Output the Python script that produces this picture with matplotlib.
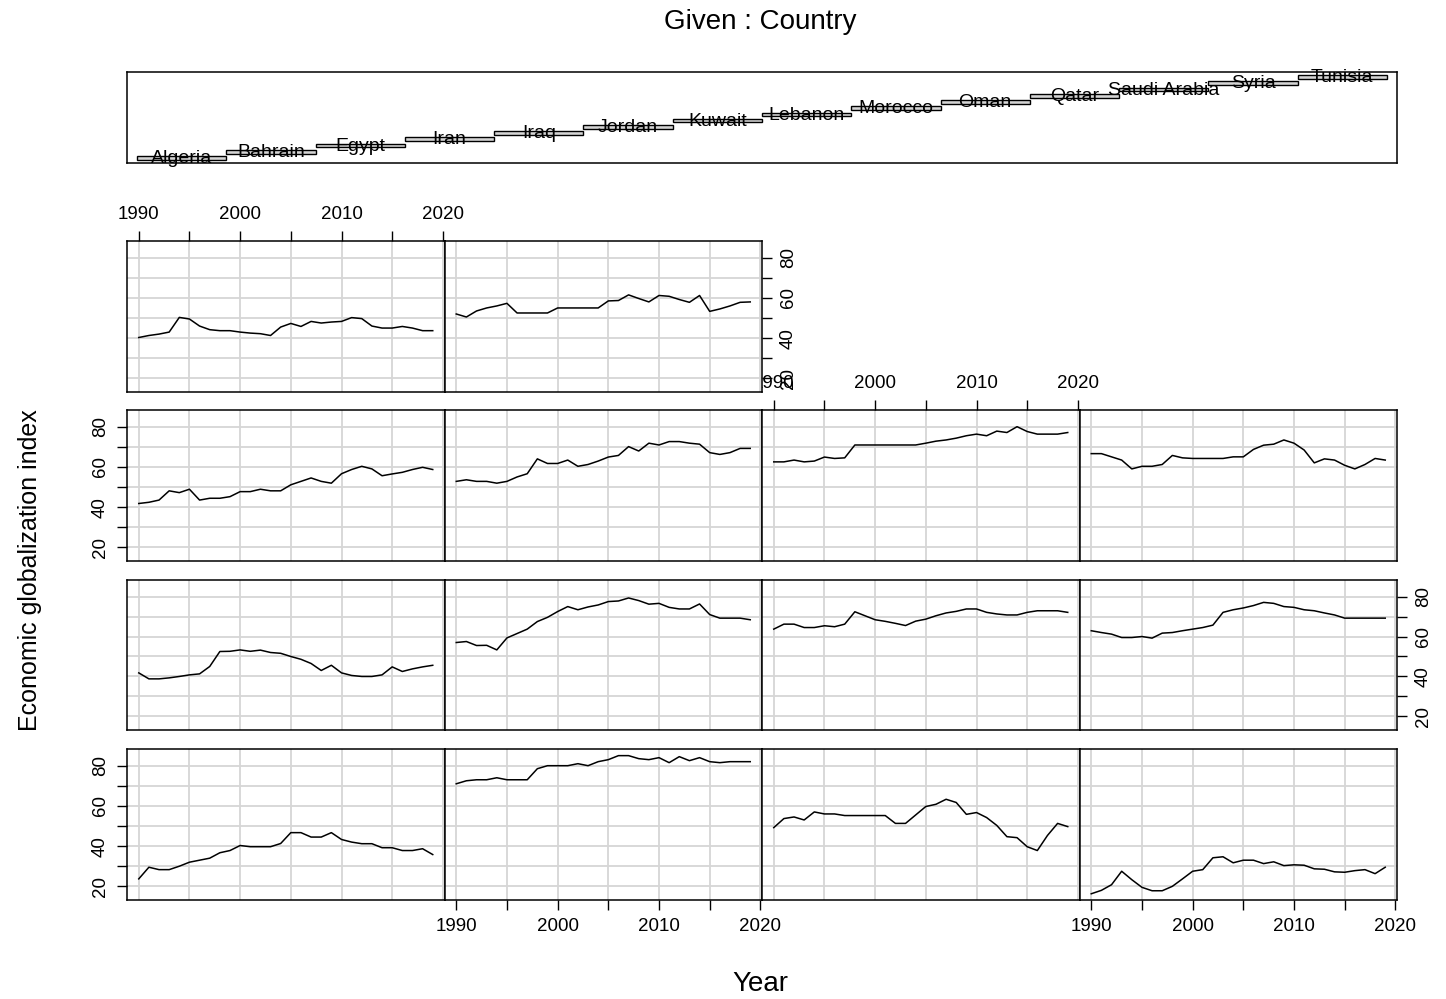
import matplotlib
matplotlib.use("Agg")
import matplotlib.pyplot as plt

plt.rcParams['font.family'] = ['Liberation Sans', 'DejaVu Sans']

years = list(range(1990, 2020))
countries = ["Algeria", "Bahrain", "Egypt", "Iran", "Iraq", "Jordan", "Kuwait",
             "Lebanon", "Morocco", "Oman", "Qatar", "Saudi Arabia", "Syria", "Tunisia"]

algeria = [23.7, 29.5, 28.3, 28.3, 30.0, 32.0, 33.0, 34.0, 36.7, 37.8, 40.3, 39.7, 39.7, 39.7, 41.3,
           46.7, 46.7, 44.5, 44.5, 46.7, 43.3, 42.0, 41.2, 41.2, 39.2, 39.2, 37.8, 37.8, 38.7, 35.8]
bahrain = [71, 72.5, 73, 73, 74, 73, 73, 73, 78.5, 80, 80, 80, 81, 80, 82,
           83, 85, 85, 83.5, 83, 84, 81.5, 84.5, 82.5, 84, 82, 81.5, 82, 82, 82]
egypt = [49.2, 53.7, 54.5, 53.0, 57.0, 56.0, 56.0, 55.2, 55.2, 55.2, 55.2, 55.2, 51.3, 51.3, 55.5,
         59.7, 60.8, 63.3, 61.7, 55.8, 56.7, 54.2, 50.3, 44.7, 44.2, 39.7, 37.8, 45.3, 51.3, 49.7]
iran = [16.3, 18.0, 20.8, 27.5, 23.3, 19.5, 17.8, 17.8, 20.0, 23.7, 27.5, 28.3, 34.2, 34.7, 31.7,
        33.0, 33.0, 31.3, 32.2, 30.3, 30.7, 30.5, 28.7, 28.5, 27.2, 27.0, 27.8, 28.3, 26.3, 29.5]
iraq = [41.8, 38.8, 38.8, 39.3, 40.0, 40.8, 41.3, 45.0, 52.5, 52.6, 53.3, 52.6, 53.2, 52.0, 51.6,
        50.0, 48.6, 46.5, 43.0, 45.6, 41.8, 40.5, 40.0, 40.0, 40.8, 44.8, 42.5, 43.8, 44.8, 45.6]
jordan = [57.0, 57.5, 55.5, 55.6, 53.3, 59.3, 61.5, 63.7, 67.5, 69.6, 72.5, 75.0, 73.4, 74.8, 75.8,
          77.5, 77.8, 79.3, 78.0, 76.2, 76.6, 74.6, 73.8, 73.8, 76.3, 71.0, 69.2, 69.2, 69.2, 68.4]
kuwait = [63.7, 66.2, 66.2, 64.5, 64.5, 65.4, 64.9, 66.2, 72.4, 70.4, 68.4, 67.6, 66.6, 65.5, 67.7,
          68.7, 70.4, 71.8, 72.6, 73.8, 73.8, 72.1, 71.3, 70.8, 70.8, 72.1, 72.9, 72.9, 72.9, 72.1]
lebanon = [62.9, 62.0, 61.2, 59.5, 59.5, 60.0, 59.2, 61.7, 62.0, 62.9, 63.7, 64.5, 65.7, 72.1, 73.4,
           74.3, 75.5, 77.1, 76.6, 75.0, 74.6, 73.4, 72.9, 71.8, 70.8, 69.2, 69.2, 69.2, 69.2, 69.2]
morocco = [41.8, 42.4, 43.5, 48.1, 47.2, 48.9, 43.5, 44.4, 44.4, 45.2, 47.7, 47.7, 48.9, 48.1, 48.1,
           51.1, 52.8, 54.5, 52.8, 51.9, 56.6, 58.7, 60.3, 59.0, 55.6, 56.5, 57.3, 58.7, 59.8, 58.7]
oman = [52.8, 53.6, 52.8, 52.8, 51.9, 52.8, 55.0, 56.6, 64.0, 61.7, 61.7, 63.4, 60.3, 61.2, 62.9,
        64.9, 65.7, 70.1, 67.9, 71.8, 70.9, 72.6, 72.6, 71.8, 71.3, 67.1, 66.2, 67.1, 69.2, 69.2]
qatar = [62.5, 62.5, 63.4, 62.5, 62.9, 64.9, 64.2, 64.5, 70.9, 70.9, 70.9, 70.9, 70.9, 70.9, 70.9,
         71.8, 72.8, 73.4, 74.3, 75.5, 76.3, 75.5, 77.8, 77.1, 80.0, 77.6, 76.3, 76.3, 76.3, 77.1]
saudi_arabia = [66.6, 66.6, 65.0, 63.4, 59.0, 60.3, 60.3, 61.2, 65.7, 64.5, 64.2, 64.2, 64.2, 64.2, 65.0,
                65.0, 68.7, 70.8, 71.3, 73.4, 71.8, 68.4, 62.0, 64.0, 63.4, 60.8, 59.0, 61.2, 64.2, 63.4]
syria = [40.3, 41.3, 42.0, 43.0, 50.3, 49.5, 46.0, 44.2, 43.7, 43.7, 43.0, 42.5, 42.2, 41.3, 45.5,
         47.3, 45.8, 48.3, 47.5, 48.0, 48.3, 50.2, 49.7, 46.0, 45.0, 45.0, 45.8, 45.0, 43.7, 43.7]
tunisia = [52.0, 50.5, 53.5, 55.0, 56.0, 57.3, 52.5, 52.5, 52.5, 52.5, 55.0, 55.0, 55.0, 55.0, 55.0,
           58.5, 58.7, 61.5, 59.7, 58.0, 61.2, 60.8, 59.2, 57.8, 61.2, 53.3, 54.5, 56.0, 57.8, 58.0]

series = [algeria, bahrain, egypt, iran, iraq, jordan, kuwait, lebanon,
          morocco, oman, qatar, saudi_arabia, syria, tunisia]

x_major = [1990, 2000, 2010, 2020]
x_minor = [1995, 2005, 2015]
y_major = [20, 40, 60, 80]
y_minor = [30, 50, 70]

W, H = 1446, 999
fig = plt.figure(figsize=(W / 100, H / 100), dpi=100)


def rect(x0, y0, x1, y1):
    return [x0 / W, 1 - y1 / H, (x1 - x0) / W, (y1 - y0) / H]


TICK_FS = 13.5
GRID_C = '#d6d6d6'

col_edges = [127, 444.5, 762, 1079.5, 1397]
row_edges = [(749, 900), (580, 730), (410, 561), (241, 392)]  # from bottom

for i, (name, vals) in enumerate(zip(countries, series)):
    r = i // 4
    c = i % 4
    y0, y1 = row_edges[r]
    ax = fig.add_axes(rect(col_edges[c], y0, col_edges[c + 1], y1))
    ax.set_xlim(1988.84, 2020.16)
    ax.set_ylim(13.2, 88.3)
    ax.set_xticks(x_major)
    ax.set_xticks(x_minor, minor=True)
    ax.set_yticks(y_major)
    ax.set_yticks(y_minor, minor=True)
    ax.grid(which='both', color=GRID_C, lw=1.3)
    ax.set_axisbelow(True)
    ax.plot(years, vals, color='black', lw=1.1)
    for s in ax.spines.values():
        s.set_linewidth(1.1)
        s.set_color('black')

    ax.tick_params(which='both', direction='out', length=7, width=1.0,
                   bottom=False, top=False, left=False, right=False,
                   labelbottom=False, labeltop=False, labelleft=False, labelright=False,
                   labelsize=TICK_FS, pad=6)

    if r == 0 and c in (1, 3):
        ax.tick_params(axis='x', which='both', bottom=True, labelbottom=True)
    topmost = (c == 0 and r == 3) or (c == 2 and r == 2)
    if topmost:
        ax.tick_params(axis='x', which='both', top=True, labeltop=True)
    if c == 0 and r in (0, 2):
        ax.tick_params(axis='y', which='both', left=True, labelleft=True)
        for lab in ax.get_yticklabels():
            lab.set_rotation(90)
            lab.set_va('center')
    last_in_row = (i == len(countries) - 1) or c == 3
    if r in (1, 3) and last_in_row:
        ax.tick_params(axis='y', which='both', right=True, labelright=True)
        for lab in ax.get_yticklabels():
            lab.set_rotation(90)
            lab.set_va('center')

# Given panel
axg = fig.add_axes(rect(127, 72, 1397, 163))
levels = list(range(1, len(countries) + 1))
axg.barh(levels, [1.0] * len(levels), left=[l - 0.5 for l in levels], height=0.6,
         color='#d4d4d4', edgecolor='black', linewidth=1.0)
for lv, name in zip(levels, countries):
    axg.text(lv, lv - 0.1, name, ha='center', va='center', fontsize=14, zorder=5)
axg.set_xlim(0.388, 14.612)
axg.set_ylim(0.2, 14.8)
axg.set_xticks([])
axg.set_yticks([])
for s in axg.spines.values():
    s.set_linewidth(1.1)

fig.text(760 / W, 1 - 22 / H, "Given : Country", ha='center', va='center', fontsize=20)
fig.text(760 / W, 1 - 984 / H, "Year", ha='center', va='center', fontsize=20)
fig.text(30 / W, 1 - 570 / H, "Economic globalization index", ha='center', va='center',
         rotation=90, fontsize=18)

fig.savefig("out.png", dpi=100)
